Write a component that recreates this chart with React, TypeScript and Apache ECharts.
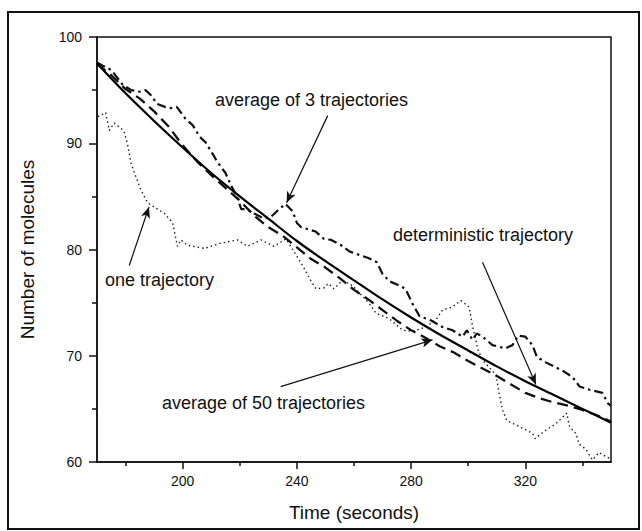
import React, { useEffect, useRef } from "react";
import * as echarts from "echarts";

// Deterministic trajectory (solid)
const detTimes = [170, 180, 190, 200, 210, 220, 230, 240, 250, 260, 270, 280, 290, 300, 310, 320, 330, 340, 350];
const detValues = [97.5, 94.7, 92.1, 89.6, 87.2, 85.0, 82.9, 80.8, 78.9, 77.1, 75.3, 73.6, 72.0, 70.5, 69.0, 67.6, 66.3, 65.0, 63.7];

// Average of 50 trajectories (dashed)
const avg50Times = [170, 175, 180, 185, 190, 195, 200, 205, 210, 215, 220, 225, 230, 235, 240, 245, 250, 255, 260, 265, 270, 275, 280, 285, 290, 295, 300, 305, 310, 315, 320, 325, 330, 335, 340, 345, 350];
const avg50Values = [97.5, 96.4, 95.1, 94.2, 93.0, 91.6, 89.8, 88.3, 87.0, 85.8, 84.6, 83.2, 82.1, 81.3, 80.2, 79.1, 78.3, 77.3, 76.2, 75.3, 74.3, 73.3, 72.4, 71.7, 70.9, 70.3, 69.5, 68.8, 68.1, 67.3, 66.5, 66.0, 65.6, 65.3, 64.9, 64.4, 63.8];

// Average of 3 trajectories (dash-dot)
const avg3Times = [170, 172, 175, 179, 182, 185, 187, 189, 191, 194, 196, 198, 201, 203.5, 206, 208, 210.5, 212, 215, 217, 219, 220.5, 222.5, 225, 228.5, 231, 233, 236, 238.5, 240, 241.5, 246.5, 249.5, 252, 255.5, 258.5, 265, 268, 270, 272.5, 276, 278, 280.5, 283, 286.5, 291, 294.5, 298, 299.5, 301.5, 303, 305, 308.5, 313, 315.5, 317.5, 320, 322.5, 324, 327, 333, 336.5, 339, 342.5, 347, 349, 350];
const avg3Values = [97.6, 97.3, 96.9, 95.5, 95.0, 94.85, 95.0, 94.5, 93.7, 93.4, 93.3, 93.4, 92.3, 91.7, 90.6, 90.1, 89.0, 88.3, 87.2, 86.0, 85.0, 83.8, 83.8, 83.4, 82.9, 83.1, 83.6, 84.3, 83.6, 82.5, 82.1, 81.7, 81.0, 80.9, 80.4, 79.8, 79.2, 78.8, 77.7, 77.0, 76.6, 76.3, 74.9, 73.7, 73.4, 72.7, 72.4, 71.8, 72.4, 71.5, 72.1, 71.8, 71.0, 70.7, 71.0, 71.9, 71.8, 71.0, 69.9, 69.4, 68.6, 68.0, 67.1, 66.8, 66.5, 65.5, 65.3];

// One trajectory (dotted)
const oneTimes = [170.3, 173, 174.3, 176, 178.5, 179.6, 180.7, 182, 183.7, 185.4, 187.7, 190, 193.6, 196.5, 197.7, 198.2, 199.4, 201.7, 207.6, 213.4, 219.2, 222.7, 227.4, 232, 236.2, 239.7, 242.6, 245, 246.7, 249.6, 251, 253, 256, 259.5, 265.4, 267.7, 272.3, 277, 280.5, 285.2, 288.7, 291, 294.5, 297.4, 300.3, 301.5, 303.5, 305, 309.7, 310.8, 312, 313.5, 316.7, 322.5, 323.4, 327.2, 330.7, 334.5, 335.5, 337.7, 338.8, 341.2, 343.5, 345.8, 348.2, 350];
const oneValues = [92.5, 92.9, 91.2, 91.9, 91.4, 91.0, 89.9, 88.0, 86.8, 85.6, 84.4, 84.0, 83.4, 82.5, 80.9, 80.3, 80.9, 80.4, 80.1, 80.6, 80.9, 80.3, 80.9, 80.3, 81.0, 79.5, 78.2, 77.0, 76.3, 76.4, 76.8, 76.3, 77.1, 76.6, 74.9, 74.0, 73.5, 72.4, 72.3, 72.7, 73.4, 74.3, 74.6, 75.2, 74.6, 72.8, 70.5, 69.6, 68.2, 66.5, 64.9, 63.9, 63.5, 62.7, 62.2, 63.0, 63.6, 64.6, 63.3, 62.7, 61.7, 61.2, 60.2, 60.9, 60.5, 60.3];

// Axis ticks
const xMajorTicks = [200, 240, 280, 320];
const xMinorTicks = [180, 220, 260, 300, 340];

// Annotation arrows: [tailTime, tailValue, headTime, headValue]
const arrowAvg3 = [250.8, 92.6, 236.4, 84.4];
const arrowOne = [181.3, 78.5, 188.2, 84.0];
const arrowDet = [305, 78.8, 323.7, 67.3];
const arrowAvg50 = [234.3, 67.1, 287.5, 71.5];

const pairs = (ts: number[], vs: number[]) => ts.map((t, i) => [t, vs[i]]);

export default function App() {
  const ref = useRef<HTMLDivElement>(null);
  useEffect(() => {
    const chart = echarts.init(ref.current!, null, { renderer: "svg" });
    const font = "'Liberation Sans', Arial, Helvetica, sans-serif";
    const arrowLine = (a: number[]) => [{ coord: [a[0], a[1]] }, { coord: [a[2], a[3]] }];
    const annText = (text: string, x: number, y: number) => ({
      type: "text",
      x,
      y,
      style: { text, fill: "#111", fontSize: 18, fontFamily: font, textVerticalAlign: "middle" },
    });
    chart.setOption({
      animation: false,
      backgroundColor: "#fff",
      grid: { left: 97, right: 31, top: 37, bottom: 69, show: true, borderColor: "#111", borderWidth: 1.5 },
      xAxis: [
        {
          type: "value",
          min: 170,
          max: 350,
          position: "bottom",
          name: "Time (seconds)",
          nameLocation: "middle",
          nameGap: 41,
          nameTextStyle: { fontSize: 19, fontFamily: font, color: "#111" },
          axisLine: { lineStyle: { color: "#111", width: 1.5 } },
          axisTick: { customValues: xMajorTicks, length: 7, lineStyle: { color: "#111", width: 1.5 } },
          axisLabel: { customValues: xMajorTicks, margin: 12, fontSize: 14, fontFamily: font, color: "#111" },
          splitLine: { show: false },
        },
        {
          type: "value",
          min: 170,
          max: 350,
          position: "bottom",
          axisLine: { show: false },
          axisTick: { customValues: xMinorTicks, length: 4, lineStyle: { color: "#111", width: 1.5 } },
          axisLabel: { show: false },
          splitLine: { show: false },
        },
      ],
      yAxis: {
        type: "value",
        min: 60,
        max: 100,
        interval: 10,
        name: "Number of molecules",
        nameLocation: "middle",
        nameGap: 60,
        nameTextStyle: { fontSize: 19, fontFamily: font, color: "#111" },
        axisLine: { show: true, lineStyle: { color: "#111", width: 1.5 } },
        axisTick: { show: true, length: 8, lineStyle: { color: "#111", width: 1.5 } },
        minorTick: { show: true, splitNumber: 2, length: 5, lineStyle: { color: "#111", width: 1.5 } },
        axisLabel: { margin: 15, fontSize: 14, fontFamily: font, color: "#111" },
        splitLine: { show: false },
        minorSplitLine: { show: false },
      },
      series: [
        {
          type: "line",
          name: "one trajectory",
          data: pairs(oneTimes, oneValues),
          showSymbol: false,
          lineStyle: { color: "#222", width: 1.4, type: [1.5, 3] },
        },
        {
          type: "line",
          name: "average of 3 trajectories",
          data: pairs(avg3Times, avg3Values),
          showSymbol: false,
          lineStyle: { color: "#111", width: 2.2, type: [9, 4, 2.5, 4] },
        },
        {
          type: "line",
          name: "average of 50 trajectories",
          data: pairs(avg50Times, avg50Values),
          showSymbol: false,
          lineStyle: { color: "#111", width: 2.3, type: [11, 6] },
        },
        {
          type: "line",
          name: "deterministic trajectory",
          data: pairs(detTimes, detValues),
          showSymbol: false,
          smooth: 0.3,
          lineStyle: { color: "#000", width: 2.2 },
          markLine: {
            silent: true,
            symbol: ["none", "arrow"],
            symbolSize: [7, 11],
            label: { show: false },
            lineStyle: { color: "#111", width: 1.2, type: "solid" },
            data: [arrowLine(arrowAvg3), arrowLine(arrowOne), arrowLine(arrowDet), arrowLine(arrowAvg50)],
          },
        },
      ],
      graphic: [
        {
          type: "rect",
          shape: { x: 8, y: 12, width: 631, height: 517 },
          style: { fill: "none", stroke: "#111", lineWidth: 2 },
          silent: true,
        },
        annText("average of 3 trajectories", 215, 100),
        annText("one trajectory", 105, 280),
        annText("deterministic trajectory", 393, 235),
        annText("average of 50 trajectories", 162, 403),
      ],
    });
    return () => chart.dispose();
  }, []);
  return <div ref={ref} style={{ position: "fixed", left: 0, top: 0, width: 642, height: 531 }} />;
}
